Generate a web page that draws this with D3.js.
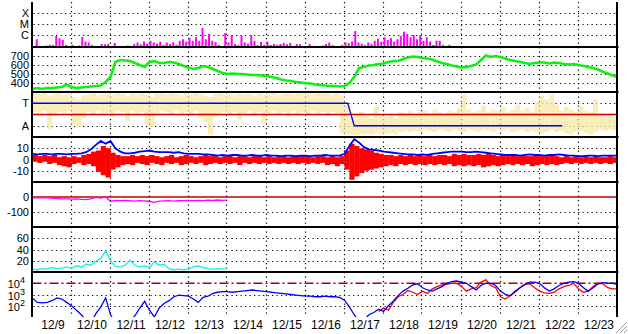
<!DOCTYPE html>
<html>
<head>
<meta charset="utf-8">
<script src="https://cdn.jsdelivr.net/npm/d3@7"></script>
<style>
html, body { margin: 0; padding: 0; background: #fff; }
svg { display: block; font-family: "Liberation Sans", Arial, sans-serif; }
</style>
</head>
<body>
<svg id="chart" width="628" height="334"></svg>
<script>
const dayLabels = ['12/9', '12/10', '12/11', '12/12', '12/13', '12/14', '12/15', '12/16',
    '12/17', '12/18', '12/19', '12/20', '12/21', '12/22', '12/23'];

// GOES x-ray flux (W/m2), one value per 2 hours
const xrayStep = 2;
const xrayFlux = [9e-8,4e-7,1e-7,9e-8,1.1e-7,1.3e-7,1.2e-7,8e-7,5e-7,3.5e-7,
    1.2e-7,9e-8,1.3e-7,9e-8,1.1e-7,6.5e-7,2.5e-7,2e-7,1.2e-7,9e-8,
    1e-7,1.5e-7,1.4e-7,1.6e-7,1e-7,1.8e-7,1e-7,9e-8,9e-8,1.1e-7,
    1e-7,1.5e-7,2e-7,1.4e-7,2.5e-7,1.5e-7,3e-7,2e-7,1.6e-7,2.4e-7,
    1.2e-7,2e-7,1.5e-7,2.2e-7,1.3e-7,3e-7,4e-7,2.5e-7,5.5e-7,3e-7,
    6e-7,3e-7,4.3e-6,4e-7,1.2e-6,3e-7,2.3e-7,1.2e-7,1e-7,1.5e-6,
    2e-7,8e-7,1.5e-7,1.2e-7,8e-7,2e-7,1.5e-7,1e-6,3e-7,1.2e-7,
    2.3e-7,1.3e-7,2.5e-7,1.2e-7,1.5e-7,1.3e-7,1.5e-7,1.8e-7,1.4e-7,1.8e-7,
    1e-7,1.5e-7,1.4e-7,1e-7,9e-8,1.5e-7,1e-7,9e-8,1e-7,1.1e-7,
    1.5e-7,2e-7,1.2e-7,1e-7,9e-8,1.3e-7,2e-7,1.8e-7,2.5e-7,2.3e-6,
    2e-7,1.6e-7,1.2e-7,2e-7,1.5e-7,3e-7,4.5e-7,2.5e-7,6e-7,3.5e-7,
    5e-7,2.5e-7,4e-7,8e-7,1.9e-6,1.2e-6,6e-7,1e-6,4e-7,1e-6,
    3e-7,6e-7,2.5e-7,1.2e-7,3e-7,3e-7,1.2e-7,1e-7,1.3e-7];

// everything below: one value per 3 hours
const step = 3;

const windSpeed = [333,344,333,344,344,350,355,383,355,344,
    350,355,361,367,372,411,467,633,656,650,
    644,622,600,578,633,644,622,622,633,628,
    611,589,572,556,567,589,578,556,533,511,
    500,506,500,500,494,489,489,483,478,467,
    456,439,428,422,411,406,400,394,383,378,
    372,367,367,361,367,400,467,567,578,594,
    600,611,617,633,644,644,667,683,694,689,
    678,672,661,639,622,611,594,583,572,578,
    589,606,656,706,689,700,689,672,656,644,
    633,622,611,622,628,628,617,628,622,611,
    606,611,600,589,578,567,550,522,506,483,
    467];

const phiLow = [200,190,210,60,170,200,190,210,100,80,
    150,200,180,210,190,200,160,210,200,130,
    210,190,200,100,80,190,210,200,180,210,
    190,200,170,210,150,120,20,160,190,200,
    180,200,140,190,210,170,200,110,190,210,
    180,200,160,210,190,200,180,210,190,200,
    170,200,190,30,20,20,15,20,25,20,
    30,20,25,30,20,40,50,40,50,40,
    60,50,40,60,50,40,60,50,40,60,
    50,40,60,50,40,60,50,60,40,50,
    60,40,50,40,30,40,60,40,50,30,
    20,40,50,30,20,40,60,50,60,50];
const phiHigh = [350,340,352,330,345,350,335,345,320,300,
    330,340,350,335,345,350,340,352,345,330,
    350,340,350,335,320,345,350,340,350,345,
    335,350,340,352,340,330,320,345,350,340,
    345,335,350,340,345,330,350,340,345,350,
    335,345,350,340,352,345,350,340,350,345,
    352,340,350,330,260,160,180,200,170,150,
    240,170,160,180,150,200,190,210,180,200,
    210,190,220,200,190,210,200,230,340,220,
    200,210,250,200,220,210,240,200,220,260,
    210,230,200,280,330,300,340,260,210,240,
    220,200,250,210,200,300,190,180,190,170];
const sectorHours = [0, 194, 198, 326];
const sectorPhi = [270, 270, 90, 90];

const bt = [5,4.5,5,5,4.5,5,5,4.5,5,5,
    5.5,6.5,9,13,16.5,14,16.5,10,7,5.5,
    5.5,6,7,7.5,8,7,6.5,6.5,6.5,6,
    6.5,5.5,5,5,5,4.5,4.5,4,3.5,4,
    3.5,4,4,3.5,3.5,4,3.5,3.5,4,3.5,
    3.5,3,3.5,3.5,3,3.5,3.5,3,3.5,3.5,
    4,3.5,3.5,3.5,5,12,18,15,11,9,
    8.5,8,7,6.5,6,5.5,5,4.5,4.5,4,
    4.5,4,5,5.5,6,6.5,7,7,7,6.5,
    6.5,7,6.5,6,5.5,5,4.5,4,4,4,
    3.5,4,4.5,4,4,3.5,4,4,4.5,4,
    3.5,3.5,3,3,3.5,3.5,3,3.5,3.5,3.5,
    3.5];
const bzLow = [-2,-3,-2,-4,-3,-5,-6,-7,-4,-3,
    -5,-4,-6,-11,-14,-16,-9,-7,-5,-4,
    -5,-3,-4,-5,-3,-4,-5,-3,-4,-3,
    -5,-4,-3,-4,-3,-5,-4,-3,-4,-3,
    -4,-3,-5,-3,-4,-3,-4,-3,-4,-3,
    -4,-3,-4,-3,-4,-3,-4,-3,-4,-3,
    -5,-4,-6,-4,-9,-18,-15,-12,-10,-9,
    -8,-7,-6,-5,-6,-4,-5,-4,-5,-4,
    -5,-4,-5,-4,-5,-4,-6,-5,-6,-5,
    -6,-5,-7,-6,-5,-6,-5,-4,-5,-4,
    -5,-4,-6,-5,-4,-5,-4,-5,-4,-3,
    -4,-3,-4,-3,-4,-3,-4,-3,-4,-3];
const bzHigh = [4,3,4,3,4,2,3,2,3,2,
    4,5,7,8,12,10,6,4,3,3,
    4,3,4,3,4,3,2,3,4,2,
    3,4,3,2,3,4,3,3,2,3,
    4,2,3,3,2,3,4,2,3,2,
    3,3,2,3,3,4,3,2,3,3,
    2,3,2,3,8,14,12,10,9,8,
    6,5,4,4,3,4,3,4,3,4,
    3,4,3,4,4,3,5,4,5,4,
    4,5,4,5,4,3,4,3,4,3,
    4,3,3,4,3,3,4,3,2,3,
    2,3,2,3,2,3,2,2,3,2];

const dst = [-5,-6,-5,-6,-7,-10,-12,-12,-14,-13,
    -16,-18,-12,-2,-8,2,-30,-22,-24,-22,
    -25,-27,-24,-26,-30,-36,-28,-26,-24,-27,
    -25,-24,-22,-24,-22,-24,-21,-22,-20,-22,
    -21];

const density = [5,4,6,5,8,6,7,9,6,11,
    9,14,12,19,24,38,20,10,9,12,
    21,12,9,11,8,18,12,14,6,4,
    5,4,5,9,11,8,6,5,6,5,
    6];

// particle flux as powers of ten
const electronExp = [2.66,2.3,2.25,2.3,2.45,2.7,2.6,2.3,2.0,1.6,
    1.2,0.7,0.5,1.3,1.9,2.7,1.2,0.5,0.4,0.5,
    0.7,1.1,1.8,2.4,1.6,1.0,1.8,2.2,2.45,2.8,
    2.95,2.9,2.85,2.6,2.3,2.75,2.85,3.1,3.2,3.25,
    3.25,3.2,3.25,3.3,3.35,3.4,3.35,3.3,3.25,3.2,
    3.15,3.1,3.05,3.0,2.95,2.9,2.85,2.85,2.8,2.8,
    2.85,2.8,2.8,2.75,2.5,1.9,1.2,0.6,0.7,1.2,
    1.4,1.7,1.5,2.0,2.4,2.9,3.3,3.55,3.85,3.95,
    3.6,3.4,3.3,3.5,3.7,4.0,4.15,4.2,4.1,4.0,
    3.7,3.4,3.8,4.0,4.0,3.8,3.3,3.0,2.9,3.3,
    3.6,3.9,4.1,4.1,4.0,3.6,3.3,3.5,3.8,4.0,
    4.1,4.15,4.0,3.6,3.3,3.6,3.95,4.05,4.0,4.0,
    3.9];
const secondStartHour = 213;
const secondExp = [1.5,1.8,1.6,2.3,2.8,3.0,3.35,3.2,3.0,
    3.3,3.1,3.5,3.7,3.85,3.9,4.0,4.0,3.7,3.3,
    3.5,3.6,4.1,4.3,3.8,3.6,2.8,2.6,2.9,3.2,
    3.6,3.9,3.95,3.6,3.3,3.15,3.1,3.2,3.5,3.7,
    3.8,4.0,3.5,3.2,3.3,3.7,4.0,3.95,3.6,3.5,
    3.5];

const svg = d3.select('#chart');
const links = 32.5, rechts = 617.5;
const panelTop = 2, panelH = 45, panelCount = 7;
const panelY = i => panelTop + panelH * i;

const x = d3.scaleLinear().domain([0, dayLabels.length * 24]).range([links, rechts]);
const binW = x(step) - x(0);

const yXray = d3.scaleLog().domain([Math.pow(10, -7.1), 1e-3]).range([panelY(1), panelY(0)]);
const ySpeed = d3.scaleLinear().domain([300, 800]).range([panelY(2), panelY(1)]);
const yPhi = d3.scaleLinear().domain([0, 360]).range([panelY(3), panelY(2)]);
const yB = d3.scaleLinear().domain([-20, 20]).range([panelY(4), panelY(3)]);
const yDst = d3.scaleLinear().domain([-200, 100]).range([panelY(5), panelY(4)]);
const yDens = d3.scaleLinear().domain([0, 80]).range([panelY(6), panelY(5)]);
const yFlux = d3.scaleLog().domain([10, 1e5]).range([panelY(7), panelY(6)]);

const defs = svg.append('defs');
for (let i = 0; i < panelCount; i++) {
    defs.append('clipPath').attr('id', 'clip' + i)
        .append('rect')
        .attr('x', links).attr('y', panelY(i))
        .attr('width', rechts - links).attr('height', panelH);
}

const grid = svg.append('g');
const dotted = { stroke: '#000', 'stroke-width': 1.2, 'stroke-dasharray': '1.2,3.3' };

function hGrid(y) {
    const l = grid.append('line')
        .attr('x1', links + 1).attr('x2', rechts - 1)
        .attr('y1', Math.round(y) + 0.5).attr('y2', Math.round(y) + 0.5);
    for (const k in dotted) l.attr(k, dotted[k]);
}

for (let d = 1; d < dayLabels.length; d++) {
    const l = grid.append('line')
        .attr('x1', Math.round(x(d * 24)) - 0.5).attr('x2', Math.round(x(d * 24)) - 0.5)
        .attr('y1', panelY(0)).attr('y2', panelY(panelCount));
    for (const k in dotted) l.attr(k, dotted[k]);
}

function label(txt, y, xr = 29) {
    return svg.append('text')
        .attr('x', xr).attr('y', y + 4)
        .attr('text-anchor', 'end')
        .style('font-size', '11px')
        .text(txt);
}

function layer(i) {
    return svg.append('g').attr('clip-path', `url(#clip${i})`);
}

// 1: x-ray
[[1e-4, 'X'], [1e-5, 'M'], [1e-6, 'C']].forEach(([v, t]) => { hGrid(yXray(v)); label(t, yXray(v)); });
layer(0).selectAll('line').data(xrayFlux).join('line')
    .attr('x1', (d, i) => x(i * xrayStep) + 1).attr('x2', (d, i) => x(i * xrayStep) + 1)
    .attr('y1', panelY(1)).attr('y2', d => yXray(d))
    .attr('stroke', '#ff00ff').attr('stroke-width', 2);

// 2: solar wind speed
[400, 500, 600, 700].forEach(v => { hGrid(ySpeed(v)); label(v, ySpeed(v)); });
layer(1).append('path')
    .attr('d', d3.line().x((d, i) => x(i * step)).y(d => ySpeed(d))(windSpeed))
    .attr('fill', 'none').attr('stroke', '#11ee11').attr('stroke-width', 2.6);

// 3: IMF sector
[[270, 'T'], [90, 'A']].forEach(([v, t]) => { hGrid(yPhi(v)); label(t, yPhi(v)); });
const g3 = layer(2);
g3.selectAll('rect').data(phiLow).join('rect')
    .attr('x', (d, i) => x(i * step)).attr('width', binW)
    .attr('y', (d, i) => yPhi(phiHigh[i])).attr('height', (d, i) => yPhi(d) - yPhi(phiHigh[i]))
    .attr('fill', '#f7e9a8').attr('opacity', 0.8);
g3.append('line')
    .attr('x1', links).attr('x2', rechts).attr('y1', yPhi(180)).attr('y2', yPhi(180))
    .attr('stroke', '#cc0000').attr('stroke-width', 1.3);
g3.append('path')
    .attr('d', d3.line().x(d => x(d)).y((d, i) => yPhi(sectorPhi[i]))(sectorHours))
    .attr('fill', 'none').attr('stroke', '#0000ee').attr('stroke-width', 1.3);

// 4: Bt and Bz
[-10, 0, 10].forEach(v => { hGrid(yB(v)); label(v, yB(v)); });
const g4 = layer(3);
g4.selectAll('rect').data(bzLow).join('rect')
    .attr('x', (d, i) => x(i * step)).attr('width', binW + 0.3)
    .attr('y', (d, i) => yB(bzHigh[i])).attr('height', (d, i) => yB(d) - yB(bzHigh[i]))
    .attr('fill', '#ff0000');
g4.append('path')
    .attr('d', d3.line().x((d, i) => x(i * step)).y(d => yB(d))(bt))
    .attr('fill', 'none').attr('stroke', '#0000ff').attr('stroke-width', 1.8);

// 5: Dst
hGrid(yDst(-100));
label(0, yDst(0)); label(-100, yDst(-100));
const g5 = layer(4);
g5.append('line')
    .attr('x1', links).attr('x2', rechts).attr('y1', yDst(0)).attr('y2', yDst(0))
    .attr('stroke', '#bb0000').attr('stroke-width', 1.5);
g5.append('path')
    .attr('d', d3.line().x((d, i) => x(i * step)).y(d => yDst(d))(dst))
    .attr('fill', 'none').attr('stroke', '#ff00ff').attr('stroke-width', 1.3);

// 6: density
[20, 40, 60].forEach(v => { hGrid(yDens(v)); label(v, yDens(v)); });
layer(5).append('path')
    .attr('d', d3.line().x((d, i) => x(i * step)).y(d => yDens(d))(density))
    .attr('fill', 'none').attr('stroke', '#11eeee').attr('stroke-width', 1.3);

// 7: particle flux
[2, 3].forEach(e => hGrid(yFlux(Math.pow(10, e))));
[2, 3, 4].forEach(e => {
    const t = label('10', yFlux(Math.pow(10, e)) + 1, 25);
    t.append('tspan').attr('dy', -5).style('font-size', '9px').text(e);
});
const g7 = layer(6);
g7.append('line')
    .attr('x1', links).attr('x2', rechts).attr('y1', yFlux(1e4)).attr('y2', yFlux(1e4))
    .attr('stroke', '#aa0000').attr('stroke-width', 1.3).attr('stroke-dasharray', '9,3,2,3');
g7.append('path')
    .attr('d', d3.line().x((d, i) => x(secondStartHour + i * step)).y(d => yFlux(Math.pow(10, d)))(secondExp))
    .attr('fill', 'none').attr('stroke', '#ff0000').attr('stroke-width', 1.3);
g7.append('path')
    .attr('d', d3.line().x((d, i) => x(i * step)).y(d => yFlux(Math.pow(10, d)))(electronExp))
    .attr('fill', 'none').attr('stroke', '#0000ff').attr('stroke-width', 1.3);

// frame
for (let i = 1; i < panelCount; i++) {
    svg.append('line')
        .attr('x1', links - 1).attr('x2', rechts + 1).attr('y1', panelY(i)).attr('y2', panelY(i))
        .attr('stroke', '#000').attr('stroke-width', 2);
}
[links - 0.5, rechts - 0.5].forEach(xx => {
    svg.append('line')
        .attr('x1', xx).attr('x2', xx).attr('y1', panelY(0)).attr('y2', panelY(panelCount))
        .attr('stroke', '#000').attr('stroke-width', 2);
});

// day labels
svg.selectAll('text.day').data(dayLabels).join('text')
    .attr('class', 'day')
    .attr('x', (d, i) => x(i * 24 + 12) + 1)
    .attr('y', 329)
    .attr('text-anchor', 'middle')
    .style('font-size', '12px')
    .text(d => d);

// window grip
[0, 4, 8].forEach(o => {
    svg.append('line')
        .attr('x1', 627).attr('y1', 322 + o).attr('x2', 616 + o).attr('y2', 333)
        .attr('stroke', '#999').attr('stroke-width', 1);
});
</script>
</body>
</html>
